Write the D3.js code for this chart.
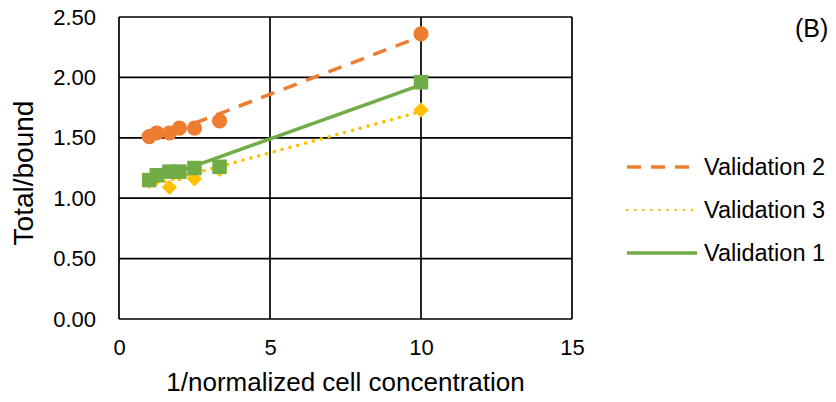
<!DOCTYPE html>
<html>
<head>
<meta charset="utf-8">
<script src="https://cdn.jsdelivr.net/npm/d3@7"></script>
<style>
  body { margin: 0; background: #fff; }
  text { font-family: Arial, "Liberation Sans", sans-serif; fill: #000; }
</style>
</head>
<body>
<div id="chart"></div>
<script>
const width = 836;
const height = 402;
const margin = {top: 17, right: 264, bottom: 83, left: 119};
const graphWidth = width - margin.left - margin.right;
const graphHeight = height - margin.top - margin.bottom;

// x values shared by all three validations
const conc = [1, 1.25, 1.67, 2, 2.5, 3.33, 10];
const validation2 = [1.51, 1.54, 1.54, 1.58, 1.58, 1.64, 2.36];
const validation3 = [1.14, 1.17, 1.09, 1.20, 1.16, 1.24, 1.73];
const validation1 = [1.15, 1.19, 1.22, 1.22, 1.25, 1.26, 1.96];
const xTicks = [0, 5, 10, 15];
const yTicks = [0, 0.5, 1, 1.5, 2, 2.5];

// drawing order: yellow, orange, green on top
const series = [
  {name: "Validation 3", values: validation3, color: "#FFC000", marker: "diamond", dash: "0.1 8"},
  {name: "Validation 2", values: validation2, color: "#ED7D31", marker: "circle", dash: "14 10"},
  {name: "Validation 1", values: validation1, color: "#70AD47", marker: "square", dash: null}
];
const legendOrder = ["Validation 2", "Validation 3", "Validation 1"];

// linear trendline like excel's
const fit = (xs, ys) => {
  const mx = d3.mean(xs), my = d3.mean(ys);
  let sxy = 0, sxx = 0;
  xs.forEach((x, i) => { sxy += (x - mx) * (ys[i] - my); sxx += (x - mx) * (x - mx); });
  const slope = sxy / sxx;
  return x => my + slope * (x - mx);
};

const svg = d3.select('#chart')
  .append('svg')
  .attr('width', width)
  .attr('height', height);

const graph = svg.append('g')
  .attr('transform', 'translate(' + margin.left + ',' + margin.top + ')');

const x = d3.scaleLinear().domain([0, 15]).range([0, graphWidth]);
const y = d3.scaleLinear().domain([0, 2.5]).range([graphHeight, 0]);

// gridlines
graph.selectAll('.hgrid')
  .data(yTicks)
  .enter()
  .append('line')
  .attr('x1', 0).attr('x2', graphWidth)
  .attr('y1', d => y(d)).attr('y2', d => y(d))
  .attr('stroke', '#000').attr('stroke-width', 1.7);

graph.selectAll('.vgrid')
  .data(xTicks)
  .enter()
  .append('line')
  .attr('x1', d => x(d)).attr('x2', d => x(d))
  .attr('y1', 0).attr('y2', graphHeight)
  .attr('stroke', '#000').attr('stroke-width', 1.7);

// axes (labels only)
const xAxis = d3.axisBottom(x).tickValues(xTicks).tickSize(0).tickPadding(20).tickFormat(d3.format('d'));
const yAxis = d3.axisLeft(y).tickValues(yTicks).tickSize(0).tickPadding(23).tickFormat(d3.format('.2f'));

graph.append('g')
  .attr('transform', 'translate(0,' + graphHeight + ')')
  .call(xAxis)
  .call(g => g.select('.domain').remove())
  .selectAll('text').style('font-size', '22px').style('font-family', 'Arial, "Liberation Sans", sans-serif');

graph.append('g')
  .call(yAxis)
  .call(g => g.select('.domain').remove())
  .selectAll('text').style('font-size', '22px').style('font-family', 'Arial, "Liberation Sans", sans-serif');

// trendlines
series.forEach(s => {
  const f = fit(conc, s.values);
  const ext = d3.extent(conc);
  graph.append('line')
    .attr('x1', x(ext[0])).attr('y1', y(f(ext[0])))
    .attr('x2', x(ext[1])).attr('y2', y(f(ext[1])))
    .attr('stroke', s.color)
    .attr('stroke-width', 3.5)
    .attr('stroke-linecap', s.dash && s.dash.startsWith('0.1') ? 'round' : 'butt')
    .attr('stroke-dasharray', s.dash);
});

// markers
series.forEach(s => {
  const pts = conc.map((c, i) => ({x: c, y: s.values[i]}));
  const sym = s.marker === 'circle' ? d3.symbolCircle : s.marker === 'square' ? d3.symbolSquare : d3.symbolDiamond2;
  const size = s.marker === 'circle' ? 180 : s.marker === 'square' ? 210 : 150;
  graph.selectAll('.m' + s.marker)
    .data(pts)
    .enter()
    .append('path')
    .attr('d', d3.symbol().type(sym).size(size))
    .attr('transform', d => 'translate(' + x(d.x) + ',' + y(d.y) + ')')
    .attr('fill', s.color);
});

// axis titles
svg.append('text')
  .attr('x', margin.left + graphWidth / 2)
  .attr('y', 391)
  .attr('text-anchor', 'middle')
  .style('font-size', '26px')
  .text('1/normalized cell concentration');

svg.append('text')
  .attr('transform', 'translate(33,' + (margin.top + graphHeight / 2 + 5) + ') rotate(-90)')
  .attr('text-anchor', 'middle')
  .style('font-size', '28px')
  .text('Total/bound');

// legend
const legend = svg.append('g').attr('transform', 'translate(627,167)');
legendOrder.forEach((name, i) => {
  const s = series.find(d => d.name === name);
  const row = legend.append('g').attr('transform', 'translate(0,' + (i * 43) + ')');
  row.append('line')
    .attr('x1', 0).attr('x2', 70).attr('y1', 0).attr('y2', 0)
    .attr('stroke', s.color)
    .attr('stroke-width', s.dash && s.dash.startsWith('0.1') ? 2.5 : 3.5)
    .attr('stroke-linecap', s.dash && s.dash.startsWith('0.1') ? 'round' : 'butt')
    .attr('stroke-dasharray', s.dash && s.dash.startsWith('0.1') ? '0.1 8' : s.dash);
  row.append('text')
    .attr('x', 77).attr('y', 8)
    .style('font-size', '23.5px')
    .text(name);
});

svg.append('text')
  .attr('x', 795).attr('y', 37)
  .style('font-size', '25px')
  .text('(B)');
</script>
</body>
</html>
